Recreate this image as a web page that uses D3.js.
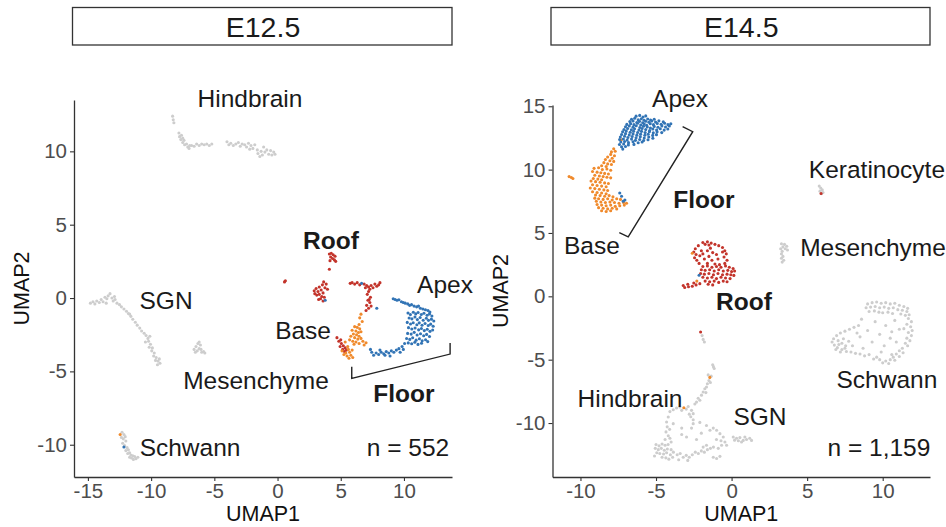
<!DOCTYPE html>
<html>
<head>
<meta charset="utf-8">
<script src="https://cdn.jsdelivr.net/npm/d3@7"></script>
<style>
  body { margin: 0; background: #fff; }
  svg { display: block; font-family: "Liberation Sans", Arial, Helvetica, sans-serif; }
</style>
</head>
<body>
<svg id="chart" width="946" height="527"></svg>
<script>
// ---------- E12.5 cells (UMAP1, UMAP2) ----------
const e125Hindbrain = [
  [-8.3,12.4],[-8.25,12.15],[-8.2,11.95],
  [-7.8,11.25],[-7.75,11.0],[-7.6,11.1],[-7.65,10.8],[-7.5,10.6],[-7.4,10.75],[-7.35,10.45],[-7.2,10.5],[-7.1,10.3],[-6.95,10.4],[-7.0,10.2],[-7.5,10.9],
  [-6.8,10.4],[-6.6,10.35],[-6.4,10.5],[-6.2,10.4],[-6.0,10.5],[-5.8,10.45],[-5.6,10.5],[-5.4,10.4],[-5.2,10.5],
  [-4.0,10.65],[-3.85,10.45],[-3.7,10.55],[-3.5,10.4],[-3.3,10.5],[-3.1,10.6],[-2.95,10.35],[-2.8,10.5],[-2.6,10.45],[-2.45,10.3],[-2.3,10.55],[-2.1,10.4],[-1.95,10.2],[-1.8,10.45],[-1.6,10.1],[-1.55,9.85],[-1.4,9.65],[-1.3,10.0],[-1.1,10.3],[-1.0,9.95],[-0.85,10.1],[-0.7,9.8],[-0.55,10.05],[-0.45,9.75],[-0.3,9.95],[-0.2,9.8],[-1.2,9.75],[-2.2,10.15]
];
const e125SGN = [
  [-14.8,-0.35],[-14.6,-0.25],[-14.45,-0.4],[-14.3,-0.2],[-14.1,-0.3],[-13.95,-0.1],[-13.8,-0.25],[-13.65,0.05],[-13.5,-0.05],[-13.4,0.15],[-13.25,0.3],[-13.1,0.0],[-13.0,-0.2],[-12.85,-0.1],[-12.7,-0.35],[-12.5,-0.45],[-12.35,-0.6],[-12.15,-0.75],[-11.95,-0.9],[-11.8,-1.05],[-11.6,-1.25],[-11.45,-1.45],[-11.25,-1.65],[-11.1,-1.85],[-10.9,-2.05],[-10.75,-2.25],[-10.55,-2.4],[-10.4,-2.55],[-10.25,-2.75],[-10.1,-2.6],[-10.2,-2.95],[-10.05,-3.15],[-10.15,-3.35],[-9.9,-3.4],[-9.95,-3.6],[-9.75,-3.75],[-9.8,-3.95],[-9.6,-4.05],[-9.65,-4.25],[-9.45,-4.3],[-9.3,-4.45],[-9.5,-4.55],[-9.35,-4.15],[-12.9,0.1],[-13.55,-0.35],[-11.7,-1.1],[-10.45,-3.0]
];
const e125Mesenchyme = [
  [-6.6,-3.5],[-6.45,-3.3],[-6.3,-3.1],[-6.2,-3.0],[-6.1,-3.2],[-6.35,-3.6],[-6.2,-3.45],[-6.0,-3.7],[-5.85,-3.65],[-5.75,-3.75],[-6.5,-3.7],[-6.05,-3.5]
];
const e125Schwann = [
  [-12.3,-9.15],[-12.15,-9.3],[-12.05,-9.45],[-12.2,-9.6],[-12.0,-9.75],[-12.25,-9.9],[-12.1,-10.05],[-11.9,-10.2],[-12.0,-10.4],[-11.8,-10.35],[-11.7,-10.55],[-11.85,-10.6],[-11.6,-10.7],[-11.45,-10.75],[-11.3,-10.8],[-11.55,-10.9],[-11.2,-10.95],[-11.4,-11.0],[-11.05,-10.85],[-11.7,-10.85],[-12.35,-9.5]
];
const e125Roof = [
  [0.55,1.1],[0.62,1.18],
  [4.1,3.0],[4.25,3.05],[4.4,2.95],[4.55,2.85],[4.2,2.8],[4.35,2.7],[4.5,2.6],[4.6,2.5],[4.15,2.55],[4.1,1.96],
  [3.65,1.1],[3.85,0.95],[3.55,0.9],[3.3,0.75],[3.05,0.65],[2.9,0.5],[3.2,0.45],[3.45,0.55],[3.75,0.7],[3.95,0.6],[3.6,0.35],[3.3,0.25],[3.1,0.2],[3.5,0.1],[3.4,-0.05],[3.6,-0.2],[3.25,-0.1],[3.7,0.05],[2.95,0.3],
  [5.75,1.0],[5.9,1.05],[6.1,0.95],[6.3,1.05],[6.5,0.9],[6.85,0.95],[7.05,0.85],[7.2,0.75],[7.4,0.85],[7.55,0.7],[7.7,0.95],[7.85,0.8],[8.0,0.9],[8.1,1.05],[7.3,0.6],[6.95,0.7],
  [7.2,0.45],[7.1,0.25],[7.35,0.05],[7.15,-0.15],[7.3,-0.3],[7.05,-0.5],[7.2,-0.7],[7.4,-0.55],[7.0,-0.85],[7.25,-0.1],
  [4.7,-2.7],[4.85,-2.95],[5.05,-3.1],[4.95,-3.3],[5.2,-3.25],[5.15,-3.5],[5.35,-3.4],[5.3,-3.65],[5.45,-3.55],[5.0,-2.85]
];
const e125Base = [
  [-12.45,-9.3],
  [6.6,-1.1],[6.5,-1.35],[6.7,-1.6],[6.45,-1.8],
  [6.1,-1.95],[6.3,-2.0],[6.5,-2.1],[5.9,-2.2],[6.2,-2.25],[6.4,-2.35],[6.6,-2.3],[6.0,-2.45],[6.25,-2.5],[6.45,-2.6],[5.8,-2.6],[6.1,-2.7],[6.35,-2.8],[6.6,-2.75],[5.7,-2.85],[5.95,-2.95],[6.2,-3.0],[6.45,-3.1],[6.75,-2.95],[6.05,-3.15],[6.85,-3.2],[7.0,-3.05],
  [5.55,-3.3],[5.35,-3.0],[5.6,-3.5],[5.4,-3.75],[5.7,-3.7],[5.5,-3.95],[5.8,-3.9],[5.65,-4.1],[5.95,-4.05],[5.25,-3.85],[5.1,-3.6],[5.9,-3.55]
];
const e125Apex = [
  [-12.15,-10.15],[3.77,-0.15],[6.65,1.0],[7.85,-0.7],
  [9.15,-0.05],[9.3,-0.1],[9.45,-0.15],[9.6,-0.12],[9.8,-0.25],[9.95,-0.3],[10.1,-0.35],[10.3,-0.4],[10.45,-0.5],[10.6,-0.45],[10.8,-0.55],[11.0,-0.6],[11.15,-0.55],[11.3,-0.7],[11.5,-0.75],[11.7,-0.8],[11.9,-0.85],[12.05,-0.95],
  [10.32,-1.02],[10.51,-1.13],[10.74,-0.97],[10.93,-1.08],[11.12,-0.99],[11.37,-1.12],[11.58,-1.04],[11.83,-1.17],[12.02,-1.08],[12.21,-1.22],
  [10.41,-1.36],[10.63,-1.42],[10.87,-1.29],[11.06,-1.47],[11.28,-1.33],[11.52,-1.51],[11.77,-1.38],[11.94,-1.52],[12.17,-1.44],[12.36,-1.57],
  [10.26,-1.66],[10.52,-1.77],[10.73,-1.68],[11.02,-1.82],[11.21,-1.69],[11.43,-1.86],[11.67,-1.74],[11.92,-1.87],[12.11,-1.78],[12.31,-1.92],
  [10.36,-2.02],[10.62,-2.11],[10.88,-2.04],[11.16,-2.17],[11.38,-2.08],[11.61,-2.22],[11.84,-2.13],[12.06,-2.27],[12.27,-2.18],
  [10.29,-2.41],[10.57,-2.46],[10.81,-2.34],[11.04,-2.52],[11.31,-2.43],[11.56,-2.57],[11.79,-2.48],[12.02,-2.62],
  [10.21,-2.76],[10.46,-2.82],[10.69,-2.71],[10.96,-2.87],[11.22,-2.78],[11.44,-2.92],[11.71,-2.84],[11.88,-2.97],
  [10.34,-3.06],[10.61,-3.12],[10.86,-3.01],[11.11,-3.16],[11.39,-3.08],
  [10.05,-3.1],[9.85,-3.3],[9.6,-3.45],[9.4,-3.55],[9.2,-3.7],[9.0,-3.6],[8.8,-3.75],[8.6,-3.65],[8.4,-3.8],[8.2,-3.7],[8.0,-3.85],[7.8,-3.75],[7.6,-3.9],[7.45,-3.7],[7.35,-3.5],[8.9,-3.95],[8.5,-3.9],[9.7,-3.7],[9.95,-3.5],[8.1,-3.55]
];

// ---------- E14.5 cells (UMAP1, UMAP2) ----------
const e145Hindbrain = [
  [-1.95,-3.1],[-1.88,-3.4],[-1.8,-3.6],
  [-1.25,-5.4],[-1.15,-5.7],[-1.2,-5.55],
  [-1.55,-6.2],[-1.5,-6.65],[-1.6,-6.9],[-1.66,-7.16],[-1.4,-6.8],[-1.35,-6.3],
  [-1.77,-7.3],[-1.88,-7.55],[-1.99,-7.8],[-2.1,-8.2],[-2.32,-8.35],[-2.43,-8.5],[-2.21,-8.05],[-1.7,-7.6],
  [-4.08,-9.1],[-3.86,-8.95],[-3.64,-8.82],[-3.42,-8.74],[-2.87,-8.7],[-2.65,-9.0],[-2.54,-9.26],[-2.7,-9.5],[-2.54,-9.74],[-3.0,-8.9],[-2.8,-9.3],[-3.3,-9.0],
  [-4.19,-9.52],[-4.3,-9.92],[-4.26,-10.3],[-4.34,-10.7],[-4.19,-11.0],[-4.08,-11.2],[-4.0,-11.5],[-3.86,-10.05],[-4.1,-10.5],[-4.4,-11.3],
  [-5.0,-11.7],[-4.8,-11.8],[-4.6,-11.65],[-4.4,-11.75],[-4.2,-11.7],[-5.05,-12.0],[-4.85,-12.1],[-4.65,-12.0],[-4.45,-12.15],[-4.25,-12.05],[-4.0,-12.1],[-4.95,-12.35],[-4.75,-12.4],[-4.5,-12.45],[-4.3,-12.35],[-4.05,-12.5],[-3.85,-12.3],[-4.6,-12.7],[-4.35,-12.75],[-4.15,-12.85],[-3.9,-12.7],[-5.1,-12.6],
  [-3.6,-12.5],[-3.4,-12.4],[-3.2,-12.7],[-3.0,-12.55],[-2.8,-12.7],[-2.6,-12.5],[-2.4,-12.3],[-2.2,-12.4],[-2.0,-12.2],[-1.8,-12.3],[-1.6,-12.1],[-1.4,-12.0],[-1.2,-11.9],[-1.21,-12.7],[-0.99,-12.8],[-0.77,-12.63],[-3.5,-12.9],[-2.9,-12.95],
  [-0.77,-10.84],[-0.55,-11.1],[-0.99,-10.57],[-1.21,-10.4],[-1.43,-10.57],[-0.44,-11.5],[-0.33,-11.76],[-0.66,-11.76],[-0.88,-12.0],[-1.66,-11.76],[-1.88,-11.9],[-1.0,-11.3],[-0.7,-11.4],
  [-2.54,-10.05],[-2.1,-9.95],[-1.66,-10.2],[-3.3,-10.9],[-2.98,-11.1],[-2.65,-10.4],[-2.32,-11.3],[-3.3,-10.4],[-2.0,-10.8]
];
const e145SGN = [
  [0.11,-11.1],[0.33,-11.2],[0.55,-11.15],[0.77,-11.37],[0.99,-11.3],[1.2,-11.2],[1.32,-11.37],[0.66,-11.5],[0.45,-11.4],[0.88,-11.1],[0.2,-11.35]
];
const e145Mesenchyme = [
  [3.3,4.15],[3.5,4.1],[3.65,3.95],[3.4,3.9],[3.25,3.75],[3.55,3.75],[3.7,3.65],[3.35,3.55],[3.3,3.35],[3.4,3.15],[3.3,3.0],[3.45,2.85],[3.35,2.7]
];
const e145Keratinocyte = [
  [5.8,8.7],[5.9,8.55],[6.0,8.4],[5.85,8.3],[6.05,8.2],[5.95,8.1]
];
const e145Schwann = [
  [9.0,-0.6],[9.3,-0.5],[9.6,-0.45],[9.9,-0.55],[10.2,-0.5],[10.5,-0.6],[10.8,-0.55],[11.1,-0.7],[11.4,-0.8],[11.65,-0.95],
  [8.9,-0.9],[9.2,-0.85],[9.5,-0.8],[9.8,-0.9],[10.1,-0.85],[10.4,-0.95],[10.7,-0.9],[11.0,-1.05],[11.3,-1.1],[11.6,-1.2],
  [9.1,-1.2],[9.45,-1.15],[9.75,-1.25],[10.0,-1.3],[10.35,-1.25],[10.65,-1.35],[11.2,-1.4],[11.5,-1.5],[11.75,-1.45],
  [11.7,-1.75],[11.9,-2.0],[11.6,-2.2],[11.85,-2.4],[11.95,-2.7],[11.7,-2.85],[11.9,-3.1],[11.6,-3.3],[11.8,-3.5],[11.5,-3.7],[11.65,-3.9],[11.4,-2.55],
  [11.3,-4.1],[11.1,-4.3],[11.35,-4.45],[10.9,-4.55],[11.1,-4.75],[10.7,-4.8],[10.5,-5.0],[10.8,-5.05],[10.2,-5.1],[10.0,-5.25],[10.4,-5.3],[9.8,-5.0],[9.6,-4.8],[9.4,-4.95],[10.6,-4.6],
  [8.4,-2.3],[8.1,-2.45],[7.8,-2.6],[7.5,-2.75],[7.2,-2.9],[6.95,-3.1],[6.75,-3.35],[6.65,-3.6],[6.8,-3.85],[7.0,-4.05],[7.3,-4.2],[7.6,-4.35],[7.9,-4.4],[8.2,-4.5],[8.5,-4.55],[8.8,-4.7],[9.1,-4.6],
  [7.05,-3.5],[7.3,-3.7],[7.55,-3.9],[7.1,-3.8],[7.4,-3.35],[7.75,-3.55],[8.0,-3.9],[6.9,-4.2],[7.2,-4.4],[7.5,-4.1],
  [8.6,-1.8],[9.5,-2.0],[10.2,-2.3],[10.8,-1.9],[9.0,-2.7],[9.8,-3.0],[10.5,-3.3],[9.3,-3.6],[10.1,-3.9],[8.5,-3.2],[10.9,-3.6],[8.3,-2.9],[9.9,-4.4],[8.7,-4.1],[11.1,-2.6],[10.6,-2.8]
];
const e145Roof = [
  [-2.05,-2.82],[5.92,8.12],
  [-1.9,4.25],[-1.6,4.3],[-1.35,4.2],[-1.1,4.1],[-0.85,4.0],[-1.5,4.05],[-1.75,4.1],
  [-2.2,4.0],[-2.4,3.75],[-2.5,3.5],[-2.35,3.3],[-2.45,3.05],[-2.3,2.85],[-2.15,2.6],[-2.0,3.6],[-2.1,3.2],
  [-0.6,3.85],[-0.45,3.6],[-0.35,3.35],[-0.5,3.1],[-0.3,2.85],[-0.45,2.6],[-0.6,3.5],
  [-1.6,3.6],[-1.25,3.45],[-1.5,3.15],[-1.0,3.3],[-1.8,2.95],[-1.3,2.85],[-0.9,2.95],[-1.6,2.6],[-1.1,2.55],[-0.8,2.5],[-1.4,3.8],[-1.9,3.35],
  [-1.9,2.35],[-1.6,2.4],[-1.3,2.3],[-1.0,2.35],[-0.7,2.3],[-0.4,2.4],[-0.15,2.3],[0.1,2.2],
  [-2.0,2.1],[-1.75,2.05],[-1.45,2.1],[-1.15,2.0],[-0.85,2.1],[-0.55,2.0],[-0.25,2.05],[0.0,1.95],[0.2,2.0],
  [-2.05,1.8],[-1.8,1.75],[-1.5,1.8],[-1.2,1.7],[-0.9,1.8],[-0.6,1.7],[-0.3,1.75],[-0.05,1.7],[0.15,1.65],
  [-1.9,1.5],[-1.6,1.45],[-1.3,1.5],[-1.0,1.4],[-0.7,1.5],[-0.4,1.45],[-0.1,1.4],
  [-1.75,1.2],[-1.45,1.15],[-1.15,1.2],[-0.85,1.1],[-0.55,1.2],[-0.3,1.15],
  [-1.55,0.95],[-1.25,0.9],
  [-2.1,1.0],[-2.35,0.9],[-2.6,0.8],[-2.85,0.75],[-3.1,0.7],[-3.2,0.85],[-2.5,1.05],[-2.9,0.95]
];
const e145Base = [
  [-1.44,-6.4],[-3.16,-8.8],[-2.6,3.4],[-2.3,1.2],[-7.3,12.35],
  [-7.8,11.65],[-7.7,11.45],[-7.95,11.4],
  [-8.0,11.2],[-7.75,11.1],[-8.2,11.0],[-7.9,10.9],[-8.35,10.8],[-8.05,10.7],[-7.8,10.65],[-8.45,10.55],[-8.2,10.45],[-7.95,10.4],[-8.6,10.3],[-8.3,10.25],
  [-9.1,10.1],[-8.8,10.15],[-8.55,10.0],[-8.25,10.05],[-8.0,9.95],[-9.2,9.85],[-8.9,9.8],[-8.65,9.75],[-8.4,9.7],[-8.15,9.65],[-9.05,9.55],[-8.75,9.5],[-8.5,9.45],[-8.25,9.4],[-8.0,9.35],[-9.15,9.3],[-8.85,9.25],[-8.6,9.2],
  [-9.3,9.1],[-9.0,9.05],[-8.7,9.0],[-8.4,8.95],[-8.15,8.9],[-9.2,8.8],[-8.9,8.75],[-8.6,8.7],[-8.3,8.65],[-9.35,8.55],[-9.05,8.5],[-8.75,8.45],[-8.45,8.4],[-8.2,8.35],[-9.2,8.25],[-8.9,8.2],[-8.6,8.15],[-8.3,8.1],
  [-9.0,8.0],[-8.7,7.95],[-8.4,7.9],[-8.1,7.95],[-7.85,7.85],[-9.05,7.75],[-8.8,7.7],[-8.5,7.65],[-8.2,7.7],[-7.9,7.6],[-7.6,7.7],[-7.35,7.65],[-8.95,7.5],[-8.65,7.45],[-8.35,7.4],[-8.05,7.45],[-7.75,7.4],[-7.45,7.35],[-7.15,7.4],[-8.9,7.25],[-8.6,7.2],[-8.3,7.15],[-8.0,7.2],[-7.7,7.1],[-7.4,7.15],[-7.1,7.2],[-6.95,7.35],[-8.8,7.0],[-8.5,6.95],[-8.2,6.9],[-7.9,6.95],[-7.6,6.9],[-8.6,6.75],[-8.3,6.7],[-8.0,6.75],
  [-10.75,9.45],[-10.6,9.38],[-10.5,9.3]
];
const e145Apex = [
  [-2.15,1.66],[-7.4,8.15],[-7.28,7.9],[-7.06,7.6],[-7.17,7.5],
  [-6.32,14.22],[-6.08,14.28],[-5.86,14.15],[-5.68,14.24],
  [-6.62,13.98],[-6.41,14.05],[-6.18,13.94],[-5.97,14.02],[-5.79,13.9],[-5.55,14.0],[-5.36,13.92],[-5.12,13.97],
  [-6.73,13.79],[-6.52,13.84],[-6.27,13.72],[-6.09,13.81],[-5.88,13.7],[-5.68,13.82],[-5.47,13.74],[-5.28,13.84],[-5.03,13.76],[-4.81,13.85],[-4.52,13.78],
  [-6.93,13.57],[-6.68,13.63],[-6.46,13.55],[-6.22,13.66],[-6.01,13.52],[-5.78,13.6],[-5.62,13.5],[-5.38,13.62],[-5.17,13.55],[-4.92,13.64],[-4.66,13.58],[-4.43,13.66],[-4.21,13.55],[-4.02,13.62],
  [-7.02,13.38],[-6.77,13.44],[-6.52,13.35],[-6.31,13.46],[-6.07,13.32],[-5.83,13.43],[-5.58,13.36],[-5.37,13.28],[-5.12,13.41],[-4.87,13.34],[-4.61,13.44],[-4.37,13.36],[-4.12,13.45],
  [-7.12,13.17],[-6.88,13.24],[-6.63,13.15],[-6.42,13.22],[-6.13,13.12],[-5.92,13.24],[-5.68,13.16],[-5.42,13.08],[-5.21,13.2],[-4.96,13.13],[-4.72,13.22],[-4.46,13.12],[-4.22,13.21],
  [-7.21,12.98],[-6.97,13.04],[-6.71,12.95],[-6.48,13.03],[-6.22,12.93],[-5.96,13.02],[-5.72,12.92],[-5.44,12.99],[-5.18,12.9],[-4.93,12.98],[-4.62,12.92],
  [-7.28,12.77],[-7.02,12.84],[-6.77,12.74],[-6.52,12.82],[-6.27,12.72],[-6.02,12.8],[-5.74,12.71],[-5.52,12.79],[-5.22,12.7],[-4.97,12.76],
  [-7.36,12.58],[-7.08,12.63],[-6.86,12.54],[-6.58,12.61],[-6.32,12.52],[-6.04,12.6],[-5.78,12.5],[-5.48,12.57],[-5.21,12.48],
  [-7.41,12.38],[-7.16,12.42],[-6.91,12.33],[-6.62,12.41],[-6.36,12.31],[-6.08,12.38],[-5.82,12.3],[-5.53,12.36],
  [-7.33,12.18],[-7.08,12.22],[-6.82,12.13],[-6.52,12.2],[-6.18,12.12],[-5.92,12.18],
  [-7.42,11.98],[-7.14,12.02],[-6.83,11.95],[-6.46,11.99],
  [-7.28,11.8],[-7.02,11.82],
  [-7.2,11.62]
];

// ---------- axes ----------
const e125XTicks = [-15, -10, -5, 0, 5, 10];
const e125YTicks = [-10, -5, 0, 5, 10];
const e145XTicks = [-10, -5, 0, 5, 10];
const e145YTicks = [-10, -5, 0, 5, 10, 15];

const colours = { other: "#cdcdcd", roof: "#c3342b", base: "#f08a2c", apex: "#3274b5" };

// Panel layout and annotation placement (annotations in UMAP coordinates)
const panels = [
  {
    title: "E12.5",
    xDomain: [-16.1, 13.8], yDomain: [-12.2, 13.5],
    left: 74, right: 452, top: 100, bottom: 477,
    xTicks: e125XTicks, yTicks: e125YTicks,
    other: [e125Hindbrain, e125SGN, e125Mesenchyme, e125Schwann],
    roof: e125Roof, base: e125Base, apex: e125Apex,
    labels: [
      { text: "Hindbrain", x: -2.18, y: 13.63 },
      { text: "Roof", x: 4.23, y: 3.95, bold: true },
      { text: "Apex", x: 13.25, y: 0.95 },
      { text: "Base", x: 2.02, y: -2.18 },
      { text: "SGN", x: -8.82, y: -0.14 },
      { text: "Mesenchyme", x: -1.7, y: -5.59 },
      { text: "Floor", x: 10.0, y: -6.54, bold: true },
      { text: "Schwann", x: -6.92, y: -10.22 },
      { text: "n = 552", x: 10.32, y: -10.22 }
    ],
    bracket: [[5.87, -4.68], [5.87, -5.48], [13.65, -3.82], [13.65, -3.07]]
  },
  {
    title: "E14.5",
    xDomain: [-11.85, 13.13], yDomain: [-14.26, 15.1],
    left: 552.5, right: 930, top: 105, bottom: 477,
    xTicks: e145XTicks, yTicks: e145YTicks,
    other: [e145Hindbrain, e145SGN, e145Mesenchyme, e145Keratinocyte, e145Schwann],
    roof: e145Roof, base: e145Base, apex: e145Apex,
    labels: [
      { text: "Apex", x: -3.41, y: 15.65 },
      { text: "Floor", x: -1.83, y: 7.68, bold: true },
      { text: "Base", x: -9.24, y: 4.05 },
      { text: "Keratinocyte", x: 9.62, y: 9.97 },
      { text: "Mesenchyme", x: 9.36, y: 3.89 },
      { text: "Roof", x: 0.82, y: -0.37, bold: true },
      { text: "Schwann", x: 10.28, y: -6.53 },
      { text: "Hindbrain", x: -6.72, y: -8.03 },
      { text: "SGN", x: 1.88, y: -9.45 },
      { text: "n = 1,159", x: 9.75, y: -11.97 }
    ],
    bracket: [[-3.24, 13.39], [-2.57, 12.99], [-6.84, 4.70], [-7.43, 5.02]]
  }
];

const svg = d3.select("#chart");

panels.forEach(p => {
  const x = d3.scaleLinear().domain(p.xDomain).range([p.left, p.right]);
  const y = d3.scaleLinear().domain(p.yDomain).range([p.bottom, p.top]);
  const g = svg.append("g");

  // facet strip
  g.append("rect")
    .attr("x", p.left - 1.5).attr("y", 7.5)
    .attr("width", p.right - p.left + 1.5).attr("height", 37.5)
    .attr("fill", "#fff").attr("stroke", "#333").attr("stroke-width", 1.3);
  g.append("text")
    .attr("x", (p.left + p.right) / 2).attr("y", 26.5)
    .attr("text-anchor", "middle").attr("dominant-baseline", "central")
    .attr("font-size", 28.5).attr("fill", "#1a1a1a").text(p.title);

  // points: other cell types underneath, hair-cell groups on top
  const dots = (arr, col) => g.append("g").selectAll("circle").data(arr).join("circle")
    .attr("cx", d => x(d[0])).attr("cy", d => y(d[1]))
    .attr("r", 1.55).attr("fill", col);
  p.other.forEach(arr => dots(arr, colours.other));
  dots(p.roof, colours.roof);
  dots(p.base, colours.base);
  dots(p.apex, colours.apex);

  // bracket spanning the floor
  g.append("path")
    .attr("d", d3.line().x(d => x(d[0])).y(d => y(d[1]))(p.bracket))
    .attr("fill", "none").attr("stroke", "#222").attr("stroke-width", 1.4);

  // axes (plain hyphen for negative tick labels)
  const fmt = d => String(d);
  const xAxis = g.append("g").attr("transform", `translate(0,${p.bottom})`)
    .call(d3.axisBottom(x).tickValues(p.xTicks).tickFormat(fmt).tickSizeInner(4).tickSizeOuter(0).tickPadding(2));
  const yAxis = g.append("g").attr("transform", `translate(${p.left},0)`)
    .call(d3.axisLeft(y).tickValues(p.yTicks).tickFormat(fmt).tickSizeInner(4).tickSizeOuter(0).tickPadding(3));
  [xAxis, yAxis].forEach(a => {
    a.select(".domain").attr("stroke", "#333").attr("stroke-width", 1.3);
    a.selectAll(".tick line").attr("stroke", "#333").attr("stroke-width", 1.1);
    a.selectAll(".tick text").attr("fill", "#4d4d4d").attr("font-size", 20.5)
      .attr("font-family", "'Liberation Sans', Arial, sans-serif");
  });

  // axis titles
  g.append("text")
    .attr("x", (p.left + p.right) / 2).attr("y", 521)
    .attr("text-anchor", "middle").attr("font-size", 21.5).attr("fill", "#111").text("UMAP1");
  g.append("text")
    .attr("transform", `translate(${p.left - 52},${(p.top + p.bottom) / 2}) rotate(-90)`)
    .attr("text-anchor", "middle").attr("dominant-baseline", "central")
    .attr("font-size", 21.5).attr("fill", "#111").text("UMAP2");

  // cluster labels
  g.append("g").selectAll("text").data(p.labels).join("text")
    .attr("x", d => x(d.x)).attr("y", d => y(d.y))
    .attr("text-anchor", "middle").attr("dominant-baseline", "central")
    .attr("font-size", 24.5).attr("font-weight", d => d.bold ? "bold" : "normal")
    .attr("fill", "#1a1a1a").text(d => d.text);
});
</script>
</body>
</html>
